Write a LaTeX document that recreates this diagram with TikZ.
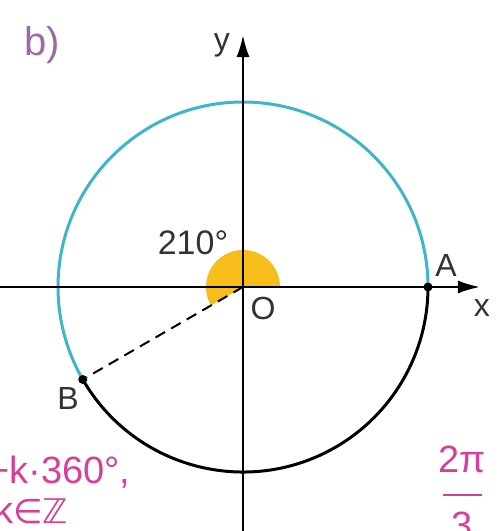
\documentclass[tikz,border=0pt]{standalone}
\usepackage{fontspec}
\setmainfont{Liberation Sans}
\newfontfamily\dejavu{DejaVu Sans}
\usetikzlibrary{arrows.meta}
\definecolor{cyanc}{HTML}{3DB6CC}
\definecolor{sect}{HTML}{F7BD1A}
\definecolor{magt}{HTML}{D6409B}
\definecolor{purp}{HTML}{9C6BA6}
\definecolor{txt}{HTML}{333333}
\begin{document}
\begin{tikzpicture}[x=1pt,y=1pt,
  lbl/.style={font=\fontsize{32}{36}\selectfont, text=txt, inner sep=0pt},
  axisline/.style={line width=2.3pt, -{Latex[length=22pt,width=13pt]}},
  dotnode/.style={circle, fill=black, inner sep=0pt, minimum size=9pt},
  magtext/.style={font=\fontsize{38}{42}\selectfont, text=magt, inner sep=0pt}]
\useasboundingbox (-243,-244) rectangle (255,287);
\coordinate (O) at (0,0);
% sector
\fill[sect] (O) -- (37,0) arc[start angle=0, end angle=210, radius=37] -- cycle;
% circle
\draw[cyanc, line width=3pt] (185,0) arc[start angle=0, end angle=210, radius=185];
\draw[black, line width=3pt] (210:185) arc[start angle=210, end angle=360, radius=185];
% axes
\coordinate (xs) at (-243,0);
\coordinate (xe) at (237,0);
\coordinate (ys) at (0,-244);
\coordinate (ye) at (0,252);
\draw[axisline] (xs) -- (xe);
\draw[axisline] (ys) -- (ye);
% points
\node[dotnode] (A) at (185,0) {};
\node[dotnode] (B) at (210:185) {};
\draw[line width=2pt, dash pattern=on 11pt off 7pt] (O) -- (B);
% labels
\node[lbl] (lx) at (239,-21) {x};
\node[lbl] (ly) at (-21,242) {y};
\node[lbl] (lO) at (20,-21) {O};
\node[lbl] (lA) at (203,22) {A};
\node[lbl] (lB) at (-175,-111) {B};
\node[lbl, font=\fontsize{34}{38}\selectfont] (lang) at (-50,44) {210°};
\node[inner sep=0pt, text=purp, font=\fontsize{40}{44}\selectfont] (lb) at (-201,242) {b)};
% bottom texts
\node[magtext, anchor=base west] (t1) at (-256,-196) {+k·360°,};
\node[magtext, anchor=base west] (t2) at (-249,-236) {k{\dejavu\fontsize{34}{38}\selectfont∈ℤ}};
\node[magtext, anchor=base] (num) at (219,-185) {2π};
\coordinate (fl) at (200,-208);
\coordinate (fr) at (239,-208);
\draw[magt, line width=2pt] (fl) -- (fr);
\node[magtext, anchor=base] (den) at (219,-251) {3};
\end{tikzpicture}
\end{document}
